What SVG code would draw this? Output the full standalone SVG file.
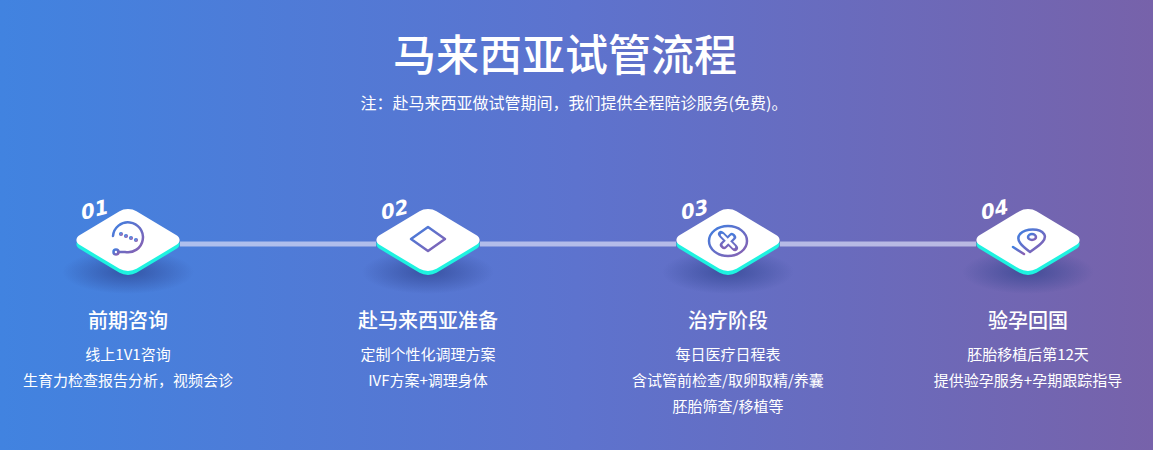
<svg xmlns="http://www.w3.org/2000/svg" width="1153" height="450" viewBox="0 0 1153 450">
<defs>
<linearGradient id="bg" x1="0" y1="0" x2="1" y2="0"><stop offset="0" stop-color="#4183e0"/><stop offset="0.5" stop-color="#5d73ce"/><stop offset="1" stop-color="#7762aa"/></linearGradient>
<linearGradient id="ic" x1="0" y1="0" x2="1" y2="1"><stop offset="0" stop-color="#3f7fe0"/><stop offset="1" stop-color="#8a5fb0"/></linearGradient>
<radialGradient id="sh"><stop offset="0" stop-color="#2a3f8a" stop-opacity="0.65"/><stop offset="1" stop-color="#2a3f8a" stop-opacity="0"/></radialGradient>
<g id="dia">
<ellipse cx="0" cy="32" rx="66" ry="22" fill="url(#sh)"/>
<rect x="-40" y="-40" width="80" height="80" rx="12" fill="#1ef2e0" transform="translate(0,4) scale(1,0.6) rotate(45)"/>
<rect x="-40" y="-40" width="80" height="80" rx="12" fill="#fff" transform="scale(1,0.6) rotate(45)"/>
</g>
</defs>
<style>
text{font-family:"Noto Sans CJK SC","Noto Sans",sans-serif;fill:#fff;text-anchor:middle}
.t{font-size:20px;font-weight:500}.d{font-size:15px}
.n{font-family:"DejaVu Sans",sans-serif;font-size:20px;font-weight:bold;text-anchor:start}
.i{fill:none;stroke:url(#ic);stroke-width:2.5;stroke-linecap:round;stroke-linejoin:round}
</style>
<rect width="1153" height="450" fill="url(#bg)"/>
<text x="565" y="71" style="font-size:43px;font-weight:500">马来西亚试管流程</text>
<text x="574" y="109" style="font-size:16px">注：赴马来西亚做试管期间，我们提供全程陪诊服务(免费)。</text>
<g id="connectors" stroke="#d8dcf5" stroke-opacity="0.7" stroke-width="5">
<line x1="180" y1="244" x2="376" y2="244"/><line x1="480" y1="244" x2="676" y2="244"/><line x1="780" y1="244" x2="976" y2="244"/>
</g>
<g id="n1"><use href="#dia" x="128" y="240"/>
<path class="i" d="M113 236 A15 15 0 1 1 125 252 L118 252"/><circle cx="116" cy="252" r="2.5" class="i"/>
<circle cx="121" cy="234" r="0.8" class="i"/><circle cx="126" cy="236" r="0.8" class="i"/><circle cx="131" cy="238" r="0.8" class="i"/><circle cx="136" cy="240" r="0.8" class="i"/>
<text x="82" y="220" class="n" transform="rotate(-14 82 220) skewX(-15) translate(58 0)" >01</text>
<text x="128" y="328" class="t">前期咨询</text><text x="128" y="360" class="d">线上1V1咨询</text><text x="128" y="386" class="d">生育力检查报告分析，视频会诊</text></g>
<g id="n2"><use href="#dia" x="428" y="240"/>
<path class="i" d="M411 239 L428 227 L445 239 L428 251 Z"/><path class="i" d="M424 243 L437 243"/>
<text x="382" y="220" class="n" transform="rotate(-14 382 220) skewX(-15) translate(58 0)">02</text>
<text x="428" y="328" class="t">赴马来西亚准备</text><text x="428" y="360" class="d">定制个性化调理方案</text><text x="428" y="386" class="d">IVF方案+调理身体</text></g>
<g id="n3"><use href="#dia" x="728" y="240"/>
<ellipse cx="728" cy="241" rx="19" ry="15" class="i"/>
<path d="M728 233 V249 M719 241 H737" stroke="url(#ic)" stroke-width="8" stroke-linecap="round" transform="rotate(45 728 241) translate(728 241) scale(1,0.8) translate(-728 -241)"/>
<path d="M728 234 V248 M720 241 H736" stroke="#fff" stroke-width="3.5" stroke-linecap="round" transform="rotate(45 728 241) translate(728 241) scale(1,0.8) translate(-728 -241)"/>
<text x="682" y="220" class="n" transform="rotate(-14 682 220) skewX(-15) translate(58 0)">03</text>
<text x="728" y="328" class="t">治疗阶段</text><text x="728" y="360" class="d">每日医疗日程表</text><text x="728" y="386" class="d">含试管前检查/取卵取精/养囊</text><text x="728" y="412" class="d">胚胎筛查/移植等</text></g>
<g id="n4"><use href="#dia" x="1028" y="240"/>
<path class="i" d="M1030 252 C1022 246 1015 240 1020 234 C1026 228 1040 228 1044 234 C1048 240 1038 246 1030 252 Z"/>
<ellipse cx="1032" cy="237" rx="4" ry="3" class="i"/><path class="i" d="M1013 247 L1024 254"/>
<text x="982" y="220" class="n" transform="rotate(-14 982 220) skewX(-15) translate(58 0)">04</text>
<text x="1028" y="328" class="t">验孕回国</text><text x="1028" y="360" class="d">胚胎移植后第12天</text><text x="1028" y="386" class="d">提供验孕服务+孕期跟踪指导</text></g>
</svg>
